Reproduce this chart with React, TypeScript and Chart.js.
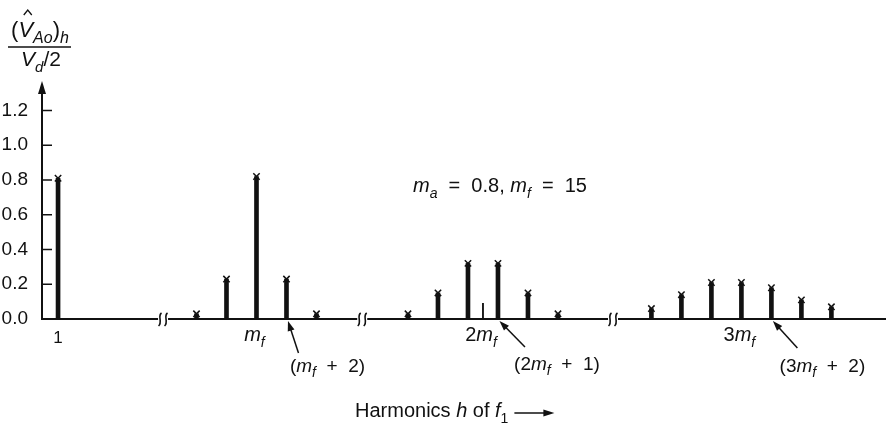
import { useEffect, useRef } from "react";
import { Chart, registerables } from "chart.js";

Chart.register(...registerables);

type Run = { t: string; it?: boolean; sub?: boolean };

// ---- data ----
const harmonics = [1, 11, 13, 15, 17, 19, 25, 27, 29, 31, 33, 35, 39, 41, 43, 45, 47, 49, 51];
const amplitudes = [0.81, 0.03, 0.23, 0.82, 0.23, 0.03, 0.03, 0.15, 0.32, 0.32, 0.15, 0.03, 0.06, 0.14, 0.21, 0.21, 0.18, 0.11, 0.07];
const minorHarmonics = [30];
const minorAmplitudes = [0.09];
const yTicks = [0, 0.2, 0.4, 0.6, 0.8, 1.0, 1.2];

// broken horizontal axis: each segment of harmonics is shifted along the axis
const segmentStarts = [0, 9, 22, 37];
const segmentShifts = [0.07, -0.7, -0.6, 1.63];
const axisBreakUnits = [8.07, 21.35, 38.07];

const groupHarmonics = [1, 15, 30, 45];
const groupLabels: Run[][] = [
  [{ t: "1" }],
  [{ t: "m", it: true }, { t: "f", it: true, sub: true }],
  [{ t: "2" }, { t: "m", it: true }, { t: "f", it: true, sub: true }],
  [{ t: "3" }, { t: "m", it: true }, { t: "f", it: true, sub: true }],
];
const calloutHarmonics = [17, 31, 47];
const calloutLabels: Run[][] = [
  [{ t: "(" }, { t: "m", it: true }, { t: "f", it: true, sub: true }, { t: "  +  2)" }],
  [{ t: "(2" }, { t: "m", it: true }, { t: "f", it: true, sub: true }, { t: "  +  1)" }],
  [{ t: "(3" }, { t: "m", it: true }, { t: "f", it: true, sub: true }, { t: "  +  2)" }],
];
const parameterText: Run[] = [
  { t: "m", it: true }, { t: "a", it: true, sub: true }, { t: "  =  0.8, " },
  { t: "m", it: true }, { t: "f", it: true, sub: true }, { t: "  =  15" },
];
const xTitle: Run[] = [
  { t: "Harmonics " }, { t: "h", it: true }, { t: " of " }, { t: "f", it: true }, { t: "1", sub: true },
];

const INK = "#111111";
const FONT = '"Liberation Sans", Arial, sans-serif';

function axisPos(h: number): number {
  let s = 0;
  for (let i = 0; i < segmentStarts.length; i++) if (h >= segmentStarts[i]) s = i;
  return h + segmentShifts[s];
}

function runFont(r: Run, size: number) {
  return `${r.it ? "italic " : ""}${r.sub ? Math.round(size * 0.72) : size}px ${FONT}`;
}

function drawRuns(ctx: CanvasRenderingContext2D, runs: Run[], x: number, y: number, size: number, align: "left" | "center") {
  const ws = runs.map((r) => {
    ctx.font = runFont(r, size);
    return ctx.measureText(r.t).width;
  });
  const total = ws.reduce((a, b) => a + b, 0);
  let cx = align === "center" ? x - total / 2 : x;
  const starts: number[] = [];
  runs.forEach((r, i) => {
    ctx.font = runFont(r, size);
    starts.push(cx);
    ctx.fillText(r.t, cx, y + (r.sub ? size * 0.28 : 0));
    cx += ws[i];
  });
  return { starts, widths: ws, total };
}

function arrow(ctx: CanvasRenderingContext2D, x1: number, y1: number, x2: number, y2: number, head = 10, half = 3.5) {
  const a = Math.atan2(y2 - y1, x2 - x1);
  ctx.beginPath();
  ctx.moveTo(x1, y1);
  ctx.lineTo(x2 - Math.cos(a) * head * 0.6, y2 - Math.sin(a) * head * 0.6);
  ctx.stroke();
  ctx.beginPath();
  ctx.moveTo(x2, y2);
  ctx.lineTo(x2 - Math.cos(a) * head - Math.sin(a) * half, y2 - Math.sin(a) * head + Math.cos(a) * half);
  ctx.lineTo(x2 - Math.cos(a) * head + Math.sin(a) * half, y2 - Math.sin(a) * head - Math.cos(a) * half);
  ctx.closePath();
  ctx.fill();
}

const overlay = {
  id: "overlay",
  afterDatasetsDraw(chart: any) {
    const ctx: CanvasRenderingContext2D = chart.ctx;
    const xs = chart.scales.x;
    const ys = chart.scales.y;
    const { left, right, top } = chart.chartArea;
    const y0 = ys.getPixelForValue(0);
    ctx.save();
    ctx.strokeStyle = INK;
    ctx.fillStyle = INK;
    ctx.lineCap = "butt";

    // horizontal axis
    ctx.lineWidth = 2;
    ctx.beginPath();
    ctx.moveTo(left, y0);
    ctx.lineTo(right, y0);
    ctx.stroke();

    // vertical axis with arrow
    ctx.beginPath();
    ctx.moveTo(left, y0 + 1);
    ctx.lineTo(left, top + 8);
    ctx.stroke();
    ctx.beginPath();
    ctx.moveTo(left, top - 1);
    ctx.lineTo(left - 4, top + 12);
    ctx.lineTo(left + 4, top + 12);
    ctx.closePath();
    ctx.fill();

    // inward ticks
    ctx.lineWidth = 1.5;
    yTicks.forEach((v) => {
      if (v === 0) return;
      const py = ys.getPixelForValue(v);
      ctx.beginPath();
      ctx.moveTo(left, py);
      ctx.lineTo(left + 10, py);
      ctx.stroke();
    });

    // axis breaks
    axisBreakUnits.forEach((u) => {
      const bx = xs.getPixelForValue(u);
      ctx.fillStyle = "#ffffff";
      ctx.fillRect(bx - 5, y0 - 3, 10, 6);
      ctx.fillStyle = INK;
      ctx.lineWidth = 1.6;
      [-3, 3].forEach((d) => {
        const cx = bx + d;
        ctx.beginPath();
        ctx.moveTo(cx + 1.5, y0 - 6);
        ctx.bezierCurveTo(cx - 3, y0 - 3, cx + 3, y0 + 3, cx - 1.5, y0 + 7);
        ctx.stroke();
      });
    });

    ctx.fillStyle = INK;
    ctx.textBaseline = "alphabetic";

    // group labels
    groupHarmonics.forEach((h, i) => {
      const px = xs.getPixelForValue(axisPos(h));
      drawRuns(ctx, groupLabels[i], px - (i === 0 ? 0 : 2), i === 0 ? 343 : 341, i === 0 ? 17 : 20, "center");
    });

    // callouts
    const calloutDx = [41, 59, 51];
    const calloutY = [372, 370, 372];
    const arrowStart = [
      [12, 353],
      [27, 347],
      [26, 348],
    ];
    ctx.lineWidth = 1.5;
    calloutHarmonics.forEach((h, i) => {
      const px = xs.getPixelForValue(axisPos(h));
      drawRuns(ctx, calloutLabels[i], px + calloutDx[i], calloutY[i], 19, "center");
      arrow(ctx, px + arrowStart[i][0], arrowStart[i][1], px + 1.5, y0 + 2);
    });

    // parameter text
    drawRuns(ctx, parameterText, 413, 192, 20, "left");

    // x title
    const t = drawRuns(ctx, xTitle, 355, 417, 20, "left");
    ctx.lineWidth = 1.3;
    arrow(ctx, 355 + t.total + 6, 413, 355 + t.total + 46, 413, 11, 3.5);

    // y title (fraction)
    const num: Run[] = [{ t: "(" }, { t: "V", it: true }, { t: "Ao", it: true, sub: true }, { t: ")" }, { t: "h", it: true, sub: true }];
    const r = drawRuns(ctx, num, 40, 37, 22, "center");
    const vx = r.starts[1] + r.widths[1] / 2 + 2;
    ctx.lineWidth = 1.3;
    ctx.beginPath();
    ctx.moveTo(vx - 4, 15);
    ctx.lineTo(vx, 10);
    ctx.lineTo(vx + 4, 15);
    ctx.stroke();
    ctx.lineWidth = 1.6;
    ctx.beginPath();
    ctx.moveTo(8, 47);
    ctx.lineTo(71, 47);
    ctx.stroke();
    const den: Run[] = [{ t: "V", it: true }, { t: "d", it: true, sub: true }, { t: "/2" }];
    drawRuns(ctx, den, 41, 66, 21, "center");

    ctx.restore();
  },
};

export default function App() {
  const ref = useRef<HTMLCanvasElement | null>(null);
  useEffect(() => {
    if (!ref.current) return;
    const barData = harmonics.map((h, i) => ({ x: axisPos(h), y: amplitudes[i] }));
    const minorData = minorHarmonics.map((h, i) => ({ x: axisPos(h), y: minorAmplitudes[i] }));
    const chart = new Chart(ref.current, {
      type: "bar",
      data: {
        datasets: [
          {
            type: "bar",
            data: barData as any,
            backgroundColor: INK,
            barThickness: 4,
            grouped: false,
          } as any,
          {
            type: "bar",
            data: minorData as any,
            backgroundColor: INK,
            barThickness: 1.2,
            grouped: false,
          } as any,
          {
            type: "scatter",
            data: barData as any,
            pointStyle: "crossRot",
            pointRadius: 4.5,
            borderColor: INK,
            borderWidth: 1.5,
            backgroundColor: INK,
            showLine: false,
            clip: false,
          } as any,
        ],
      },
      options: {
        animation: false,
        responsive: false,
        devicePixelRatio: 1,
        layout: { autoPadding: false, padding: { left: 0, right: 0, top: 82, bottom: 105 } },
        plugins: { legend: { display: false }, tooltip: { enabled: false } },
        scales: {
          x: { type: "linear", min: 0, max: 56.27, display: false, offset: false },
          y: {
            type: "linear",
            min: 0,
            max: 1.364,
            grid: { display: false },
            border: { display: false },
            afterBuildTicks: (axis: any) => {
              axis.ticks = yTicks.map((v) => ({ value: v }));
            },
            afterFit: (axis: any) => {
              axis.width = 42;
            },
            ticks: {
              padding: 6,
              color: INK,
              font: { family: FONT, size: 19 },
              callback: (v: any) => Number(v).toFixed(1),
            },
          },
        },
      },
      plugins: [overlay],
    });
    return () => chart.destroy();
  }, []);
  return (
    <div style={{ position: "fixed", left: 0, top: 0, width: 886, height: 424, background: "#fff" }}>
      <canvas ref={ref} width={886} height={424} style={{ display: "block" }} />
    </div>
  );
}
